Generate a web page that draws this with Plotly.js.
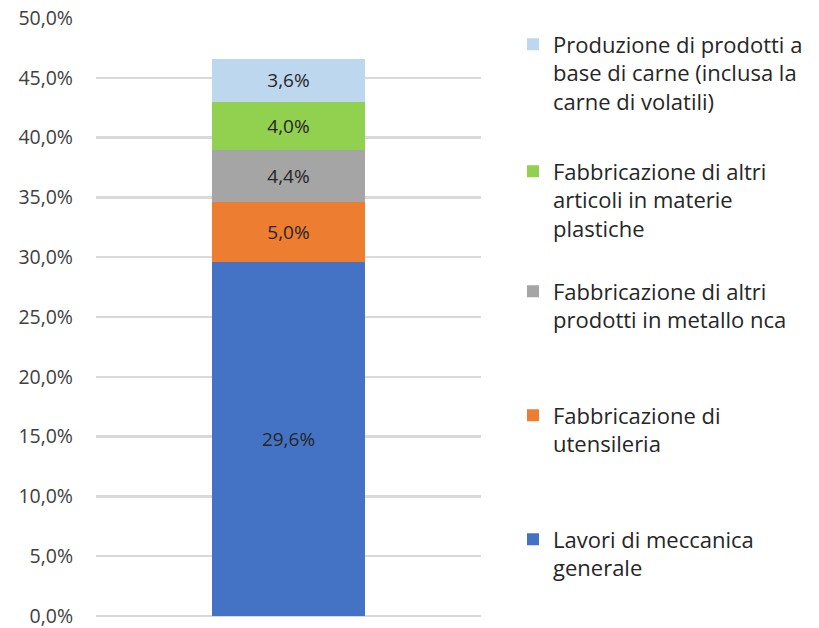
<!DOCTYPE html>
<html>
<head>
<meta charset="utf-8">
<script src="https://cdn.plot.ly/plotly-3.0.1.min.js"></script>
<style>html,body{margin:0;padding:0;background:#fff;}#chart{width:819px;height:628px;}</style>
</head>
<body>
<div id="chart"></div>
<script>
const category = ['Totale'];
const seriesNames = [
  'Lavori di meccanica<br>generale',
  'Fabbricazione di<br>utensileria',
  'Fabbricazione di altri<br>prodotti in metallo nca',
  'Fabbricazione di altri<br>articoli in materie<br>plastiche',
  'Produzione di prodotti a<br>base di carne (inclusa la<br>carne di volatili)'
];
const seriesValues = [0.296, 0.050, 0.044, 0.040, 0.036];
const seriesColors = ['#4472C4', '#ED7D31', '#A5A5A5', '#92D050', '#BDD7EE'];
const yTickVals = [0, 0.05, 0.10, 0.15, 0.20, 0.25, 0.30, 0.35, 0.40, 0.45, 0.50];
const legendCenters = [554, 430, 306, 200, 73];

const FONT = '"Open Sans", "Noto Sans", sans-serif';
const traces = seriesNames.map((n, i) => ({
  type: 'bar',
  x: category,
  y: [seriesValues[i]],
  name: n,
  marker: {color: seriesColors[i]},
  texttemplate: '%{y:.1%}',
  textposition: 'inside',
  insidetextanchor: 'middle',
  textangle: 0,
  constraintext: 'none',
  insidetextfont: {family: FONT, size: 19, color: '#262626'},
  hoverinfo: 'none',
  legend: i === 0 ? 'legend' : 'legend' + (i + 1)
}));

const layout = {
  width: 819, height: 628,
  paper_bgcolor: '#fff', plot_bgcolor: '#fff',
  separators: ',.',
  barmode: 'stack',
  bargap: 0.605,
  margin: {l: 96, r: 338, t: 18, b: 12},
  font: {family: FONT, size: 19, color: '#404040'},
  xaxis: {showticklabels: false, showgrid: false, zeroline: false, showline: false, range: [-0.5, 0.5]},
  yaxis: {
    range: [0, 0.5], tickvals: yTickVals, tickformat: '.1%',
    showgrid: true, gridcolor: '#D9D9D9', gridwidth: 2.5,
    zeroline: true, zerolinecolor: '#D9D9D9', zerolinewidth: 2.5,
    showline: false, ticks: '', ticklabelstandoff: 22,
    ticklabeloverflow: 'allow',
    tickfont: {family: FONT, size: 19.5, color: '#404040'}
  },
  showlegend: true
};
legendCenters.forEach((c, i) => {
  const key = i === 0 ? 'legend' : 'legend' + (i + 1);
  layout[key] = {
    xref: 'container', yref: 'container',
    x: 513 / 819, y: 1 - c / 628,
    xanchor: 'left', yanchor: 'middle',
    valign: 'top', bgcolor: 'rgba(0,0,0,0)',
    font: {family: FONT, size: 22, color: '#262626'}
  };
});

Plotly.newPlot('chart', traces, layout, {staticPlot: true});
</script>
</body>
</html>
